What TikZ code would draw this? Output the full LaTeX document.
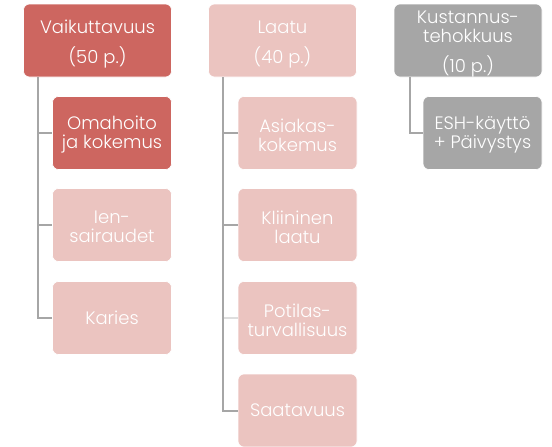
\documentclass[tikz,border=0pt]{standalone}
\usepackage{fontspec}
\setmainfont{Poppins}[UprightFont=* Light]
\usetikzlibrary{calc}

\definecolor{mainred}{RGB}{205,102,96}
\definecolor{softpink}{RGB}{235,196,192}
\definecolor{midgray}{RGB}{166,166,166}
\definecolor{linegray}{RGB}{166,166,166}
\definecolor{palegray}{RGB}{222,222,222}

\tikzset{
  card/.style={rounded corners=6pt, draw=white, line width=0.6pt, inner sep=0pt},
  topcard/.style={card, minimum width=148pt, minimum height=73pt},
  subcard/.style={card, minimum width=119pt, minimum height=73pt},
  cardtext/.style={text=white, align=center, inner sep=0pt,
    font=\fontsize{18}{19}\selectfont},
  conn/.style={draw=linegray, line width=2pt},
}

\begin{document}
\begin{tikzpicture}[x=1pt,y=-1pt]
\useasboundingbox (0,0) rectangle (552,447);

% column 1: effectiveness
\node[topcard, fill=mainred] (vaik) at (97.5,40.5) {};
\node[cardtext, yshift=-4pt] (vaik-t) at (vaik) {Vaikuttavuus\\[11pt](50 p.)};
\node[subcard, fill=mainred] (oma) at (112,133) {};
\node[cardtext, yshift=-2pt] (oma-t) at (oma) {Omahoito\\ja kokemus};
\node[subcard, fill=softpink] (ien) at (112,225) {};
\node[cardtext, yshift=-2pt] (ien-t) at (ien) {Ien-\\sairaudet};
\node[subcard, fill=softpink] (karies) at (112,318) {};
\node[cardtext] (karies-t) at (karies) {Karies};

% column 2: quality
\node[topcard, fill=softpink] (laatu) at (282.5,40.5) {};
\node[cardtext, yshift=-4pt] (laatu-t) at (laatu) {Laatu\\[11pt](40 p.)};
\node[subcard, fill=softpink] (asiakas) at (297.5,133) {};
\node[cardtext, yshift=-2pt] (asiakas-t) at (asiakas) {Asiakas-\\kokemus};
\node[subcard, fill=softpink] (kliin) at (297.5,225) {};
\node[cardtext, yshift=-2pt] (kliin-t) at (kliin) {Kliininen\\laatu};
\node[subcard, fill=softpink] (potilas) at (297.5,318) {};
\node[cardtext, yshift=-2pt] (potilas-t) at (potilas) {Potilas-\\turvallisuus};
\node[subcard, fill=softpink] (saata) at (297.5,410.5) {};
\node[cardtext] (saata-t) at (saata) {Saatavuus};

% column 3: cost efficiency
\node[topcard, fill=midgray] (kust) at (468,40.5) {};
\node[cardtext, yshift=-4pt] (kust-t) at (kust) {Kustannus-\\tehokkuus\\[11pt](10 p.)};
\node[subcard, fill=midgray] (esh) at (482.5,133) {};
\node[cardtext, yshift=-2pt] (esh-t) at (esh) {ESH-käyttö\\+ Päivystys};

% trunk starts under each top card
\coordinate (t1) at ($(vaik.south)+(-59.5,0)$);
\coordinate (t2) at ($(laatu.south)+(-59.5,0)$);
\coordinate (t3) at ($(kust.south)+(-58,0)$);

\draw[conn] (t1) |- (karies.west);
\draw[conn] (t1) |- (oma.west);
\draw[conn] (t1) |- (ien.west);

\draw[conn] (t2) |- (saata.west);
\draw[conn] (t2) |- (asiakas.west);
\draw[conn] (t2) |- (kliin.west);
\draw[conn, draw=palegray] ($(t2 |- potilas.west)+(1,0)$) -- (potilas.west);

\draw[conn] (t3) |- (esh.west);
\end{tikzpicture}
\end{document}
